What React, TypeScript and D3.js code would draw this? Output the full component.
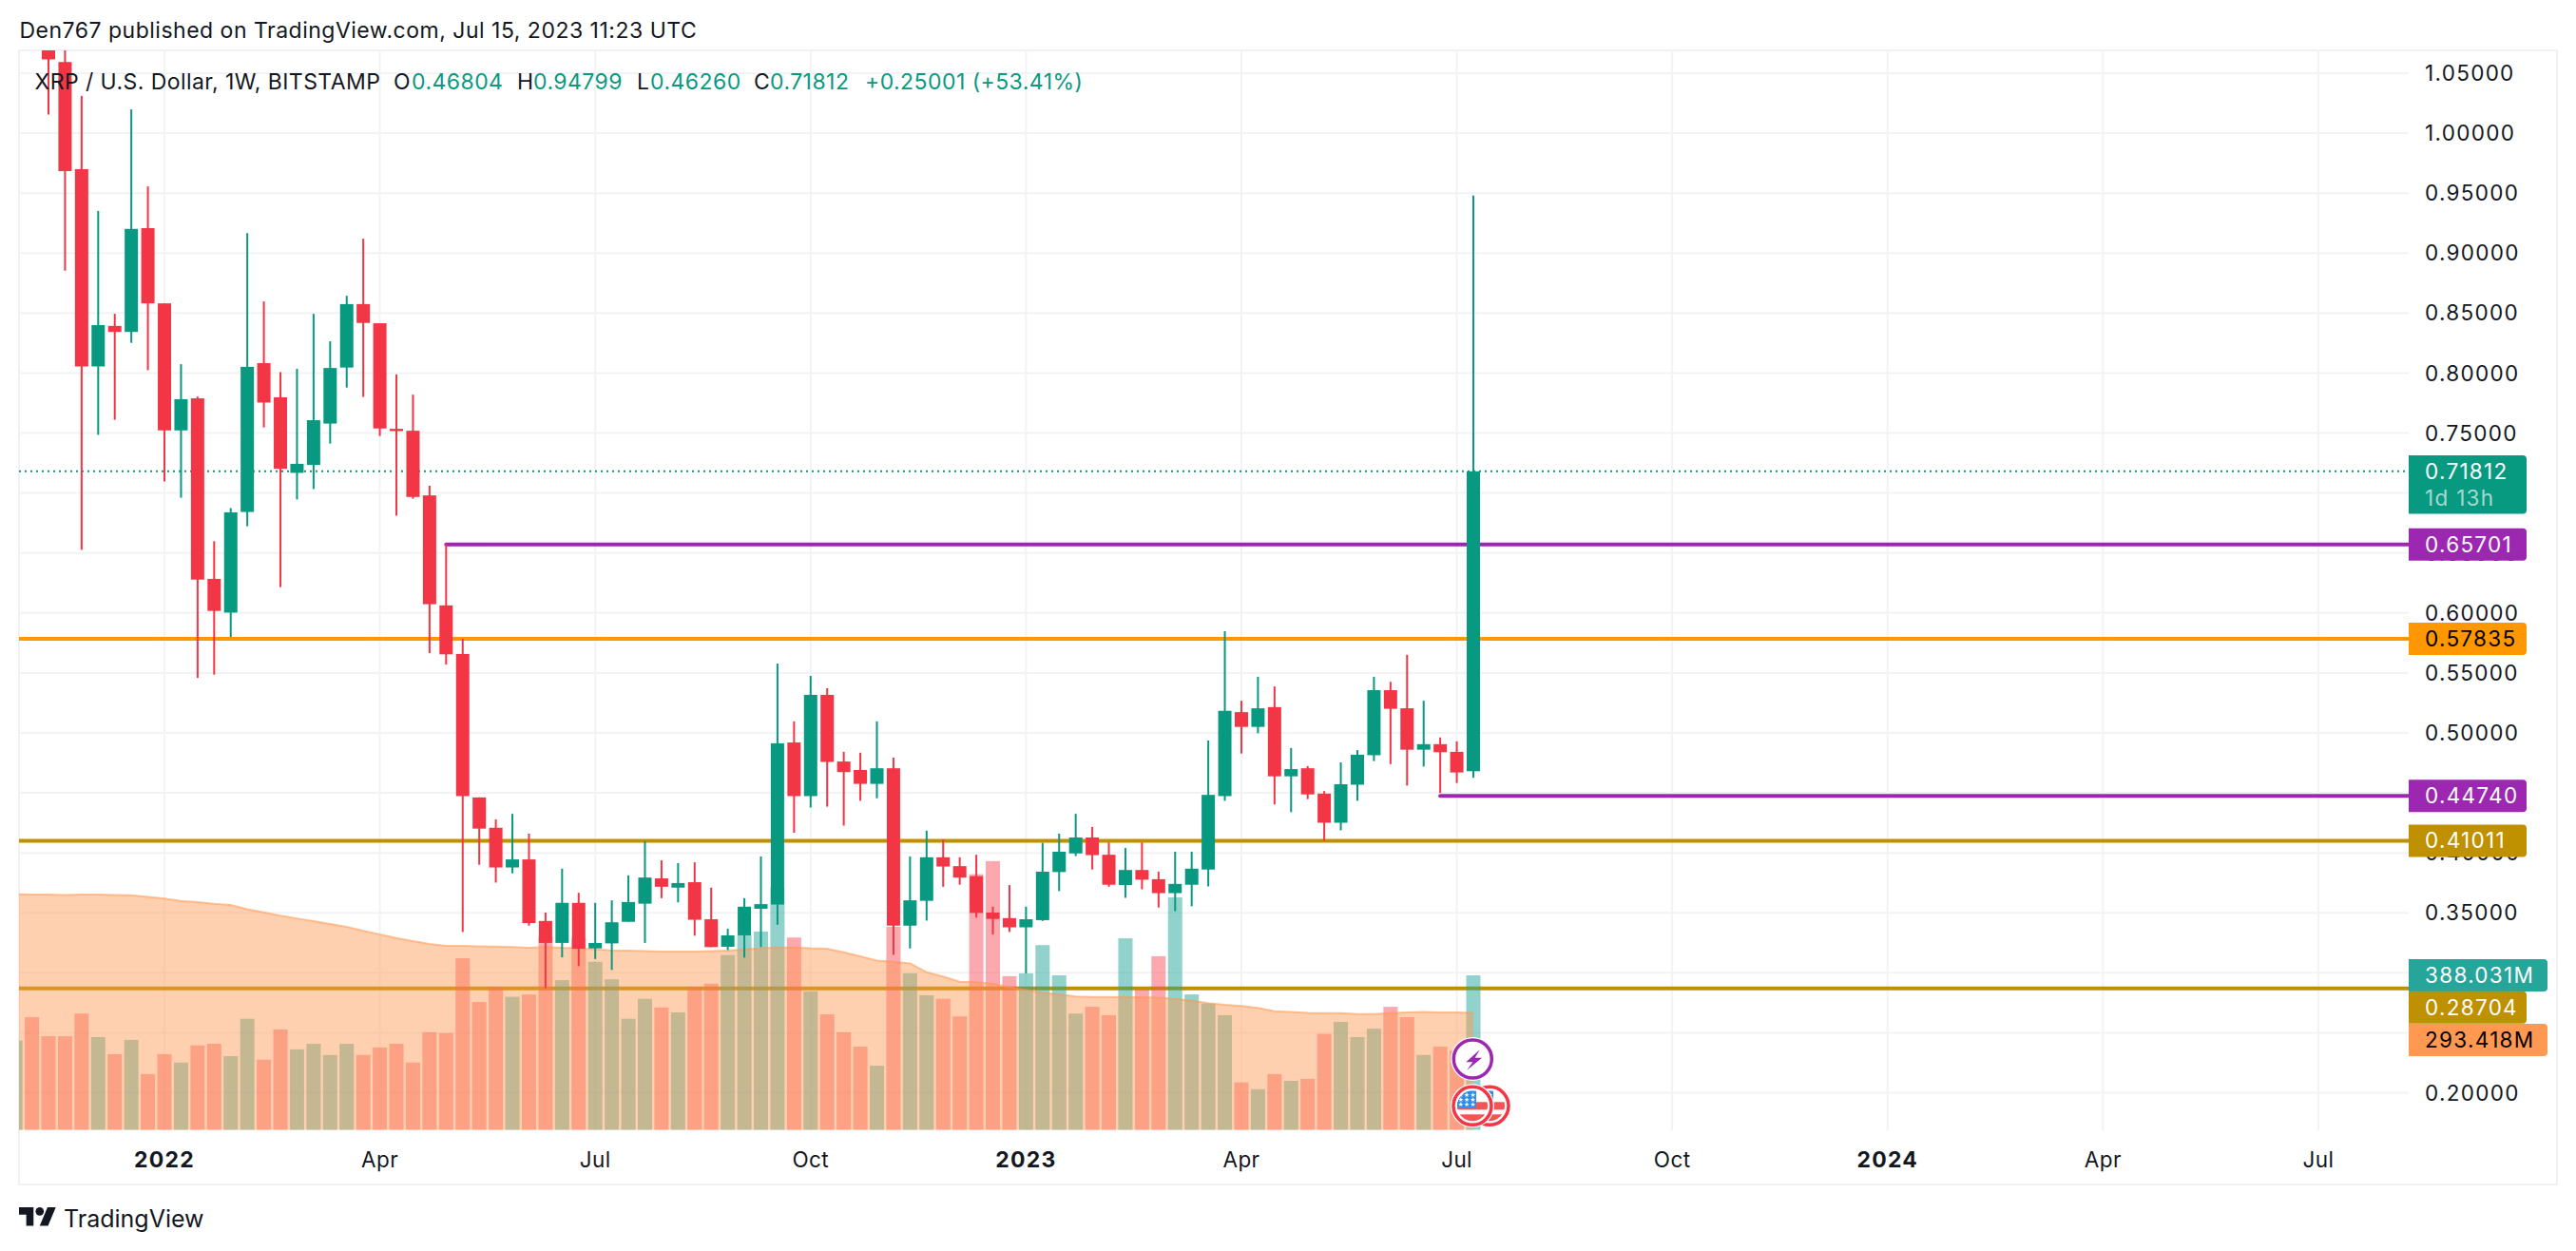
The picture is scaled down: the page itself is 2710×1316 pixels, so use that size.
/**
 * XRP / USD weekly candles with volume, volume MA and drawn levels (D3 scales + JSX).
 */

import * as d3 from "d3";

const WIDTH = 2710;
const HEIGHT = 1316;
const FONT = "Inter, 'Noto Sans', sans-serif";

const UP = "#089981";
const DOWN = "#F23645";
const GRID = "#F2F3F5";
const FRAME = "#F0F1F6";
const TEXT = "#131722";
const PURPLE = "#9C27B0";
const ORANGE = "#FF9800";
const GOLD = "#BF9000";
const MA_COLOR = "#FF9850";

// weekly candles, first one is the week of Nov 15 2021
const opens = [
  1.12, 1.0593, 0.97, 0.8055, 0.8393, 0.8343, 0.9208, 0.8581, 0.7522, 0.7789, 0.6284, 0.6003, 0.6842, 0.8083, 0.7798,
  0.7168, 0.7234, 0.7579, 0.8046, 0.8575, 0.8415, 0.7535, 0.7519, 0.698, 0.6063, 0.5658, 0.4462, 0.4209, 0.3878,
  0.3945, 0.3432, 0.3249, 0.3583, 0.3203, 0.3245, 0.3425, 0.3576, 0.3787, 0.371, 0.3755, 0.3446, 0.3217, 0.3312,
  0.3534, 0.3569, 0.492, 0.4473, 0.5317, 0.4761, 0.4691, 0.4575, 0.4705, 0.3393, 0.36, 0.3963, 0.3889, 0.3805, 0.3502,
  0.3456, 0.3379, 0.3439, 0.384, 0.3995, 0.4128, 0.3984, 0.3731, 0.3857, 0.378, 0.3664, 0.3734, 0.3861, 0.4473,
  0.5173, 0.505, 0.5215, 0.4638, 0.4705, 0.4494, 0.4251, 0.4568, 0.4814, 0.5356, 0.5205, 0.486, 0.4906, 0.4842, 0.46804,
];
const highs = [
  1.16, 1.12, 1.0311, 0.9352, 0.8494, 1.0198, 0.9556, 0.8581, 0.8074, 0.7804, 0.6598, 0.6874, 0.9167, 0.8597, 0.8008,
  0.8036, 0.8494, 0.8265, 0.8644, 0.912, 0.8415, 0.7989, 0.782, 0.7061, 0.6573, 0.5785, 0.4462, 0.4279, 0.4325, 0.416,
  0.3502, 0.3868, 0.3667, 0.3583, 0.3604, 0.3812, 0.4097, 0.3938, 0.3914, 0.3921, 0.371, 0.3368, 0.3622, 0.397, 0.5578,
  0.5096, 0.5475, 0.5373, 0.4842, 0.4835, 0.5096, 0.4793, 0.397, 0.4185, 0.4111, 0.3963, 0.3984, 0.3551, 0.3731,
  0.3551, 0.4083, 0.416, 0.4325, 0.4216, 0.4086, 0.404, 0.4086, 0.3843, 0.4009, 0.4009, 0.4937, 0.5848, 0.5268, 0.5468,
  0.5387, 0.4874, 0.4723, 0.4515, 0.4754, 0.4856, 0.5468, 0.5426, 0.5651, 0.5268, 0.4962, 0.493, 0.94799,
];
const lows = [
  1.0155, 0.8854, 0.6526, 0.7485, 0.761, 0.8252, 0.8024, 0.7096, 0.6961, 0.5458, 0.5486, 0.5799, 0.6723, 0.7547, 0.6215,
  0.6946, 0.7033, 0.7412, 0.7879, 0.7801, 0.7475, 0.6811, 0.6952, 0.5665, 0.557, 0.334, 0.39, 0.3752, 0.3829, 0.3393,
  0.2872, 0.3129, 0.3055, 0.3115, 0.3024, 0.3425, 0.3249, 0.3622, 0.3587, 0.3309, 0.3214, 0.3189, 0.3126, 0.3214, 0.34,
  0.4167, 0.4378, 0.4385, 0.4227, 0.4434, 0.4455, 0.315, 0.3203, 0.3435, 0.3717, 0.3734, 0.346, 0.3319, 0.334, 0.2995,
  0.3432, 0.3681, 0.3973, 0.3861, 0.3717, 0.3625, 0.3696, 0.3544, 0.3513, 0.3555, 0.372, 0.4434, 0.4828, 0.4997,
  0.4403, 0.4339, 0.4448, 0.41, 0.4188, 0.4434, 0.4765, 0.474, 0.4561, 0.4719, 0.4498, 0.4582, 0.4626,
];
const closes = [
  1.0615, 0.9684, 0.8055, 0.84, 0.8343, 0.9202, 0.8581, 0.7522, 0.7782, 0.6278, 0.6017, 0.6839, 0.8052, 0.7754, 0.7202,
  0.7243, 0.7607, 0.8042, 0.8575, 0.8418, 0.7538, 0.7516, 0.6967, 0.6073, 0.5655, 0.4473, 0.4202, 0.3878, 0.3945,
  0.3414, 0.3249, 0.3583, 0.32, 0.3249, 0.3421, 0.359, 0.3794, 0.3717, 0.3748, 0.3442, 0.3214, 0.3312, 0.3551, 0.3572,
  0.4913, 0.4473, 0.5317, 0.4758, 0.4673, 0.4575, 0.4705, 0.3393, 0.3604, 0.3963, 0.3886, 0.3794, 0.3499, 0.3449,
  0.3379, 0.3446, 0.3843, 0.4009, 0.4128, 0.3981, 0.3734, 0.3857, 0.3776, 0.3664, 0.3741, 0.3868, 0.4483, 0.5184,
  0.505, 0.5205, 0.4638, 0.4698, 0.4487, 0.4251, 0.4572, 0.4818, 0.5356, 0.5201, 0.486, 0.4906, 0.4839, 0.467, 0.71812,
];

// the two bars before the first candle only show up in the volume pane
const FIRST_VOLUME_WEEK = -2;
const volumeUpBefore = [true, false];
const volumes = [
  224, 283, 235, 235, 292, 233, 190, 226, 140, 190, 169, 212, 216, 185, 279, 176, 252, 202, 216, 188, 216, 188, 207, 216,
  169, 245, 243, 431, 321, 359, 334, 340, 485, 376, 481, 422, 378, 279, 329, 307, 295, 359, 367, 439, 489, 498, 609, 483,
  348, 290, 245, 209, 161, 510, 393, 338, 329, 285, 642, 675, 386, 393, 464, 388, 292, 309, 288, 481, 352, 436, 584, 340,
  317, 288, 119, 102, 140, 123, 128, 241, 271, 233, 254, 309, 283, 188, 209, 199, 388.031,
];
const volumeMa = [
  592, 591, 591, 590, 591, 591, 590, 589, 585, 581, 575, 572, 568, 565, 554, 546, 538, 531, 524, 517, 510, 500, 491, 482,
  474, 467, 462, 462, 461, 460, 459, 457, 459, 457, 456, 453, 451, 450, 449, 448, 448, 448, 449, 450, 453, 456, 458, 458,
  456, 455, 446, 436, 425, 422, 418, 396, 385, 372, 371, 367, 358, 351, 344, 340, 335, 334, 334, 333, 333, 332, 329, 324,
  318, 314, 311, 306, 298, 296, 294, 293, 293, 291, 291, 293, 295, 296, 295, 295, 293.418,
];

const priceTicks = [
  0.2, 0.25, 0.3, 0.35, 0.4, 0.45, 0.5, 0.55, 0.6, 0.65, 0.7, 0.75, 0.8, 0.85, 0.9, 0.95, 1.0, 1.05,
];
// these labels lie fully under a price tag in the picture
const hiddenPriceLabels = [0.25, 0.3, 0.45, 0.7];
const timeLabels = ["2022", "Apr", "Jul", "Oct", "2023", "Apr", "Jul", "Oct", "2024", "Apr", "Jul"];
const timeWeeks = [7, 20, 33, 46, 59, 72, 85, 98, 111, 124, 137];

const levelPrices = [0.65701, 0.57835, 0.4474, 0.41011, 0.28704];
const levelColors = [PURPLE, ORANGE, PURPLE, GOLD, GOLD];
const levelStartWeeks = [24, -2, 84, -2, -2];
const levelTextFill = ["#fff", "#000", "#fff", "#fff", "#fff"];

const LAST_PRICE = 0.71812;

const legendParts: [string, number, string][] = [
  ["XRP / U.S. Dollar, 1W, BITSTAMP", 36.5, TEXT],
  ["O", 414, TEXT],
  ["0.46804", 433, UP],
  ["H", 544, TEXT],
  ["0.94799", 561, UP],
  ["L", 670, TEXT],
  ["0.46260", 684, UP],
  ["C", 793, TEXT],
  ["0.71812", 810, UP],
  ["+0.25001 (+53.41%)", 910, UP],
];

const pane = { left: 20, right: 2534, top: 53, bottom: 1189, outerRight: 2690, outerBottom: 1246 };

const x = d3.scaleLinear().domain([0, 86]).range([51, 1550]);
const y = d3.scaleLinear().domain([0.2, 1.05]).range([1149.5, 77]);
const yVol = d3.scaleLinear().domain([0, 388.031]).range([1188.5, 1026]);

const BODY_W = 14;
const WICK_W = 2;
const VOL_W = 15;
const TAG_H = 34;
const TAG_W = 124;
const VOL_TAG_W = 146;
const LABEL_X = 2551;
const TICK_SIZE = 22.5;
const TICK_SPACING = "1.3px";

const volWeek = (i: number) => i + FIRST_VOLUME_WEEK;
const volIsUp = (i: number) => {
  const w = volWeek(i);
  return w < 0 ? volumeUpBefore[i] : closes[w] >= opens[w];
};

const maArea = d3
  .area<number>()
  .x((_, i) => x(volWeek(i)))
  .y0(yVol(0))
  .y1((d) => yVol(d));
const maLine = d3
  .line<number>()
  .x((_, i) => x(volWeek(i)))
  .y((d) => yVol(d));

function Tag({ cy, w, fill, color, text }: { cy: number; w: number; fill: string; color: string; text: string }) {
  const x0 = pane.right;
  const top = cy - TAG_H / 2;
  return (
    <g>
      <path d={`M${x0},${top}H${x0 + w - 4}q4,0 4,4V${top + TAG_H - 4}q0,4 -4,4H${x0}Z`} fill={fill} />
      <text x={LABEL_X} y={cy} dy="0.36em" fill={color} fontSize={TICK_SIZE} style={{ letterSpacing: TICK_SPACING }}>
        {text}
      </text>
    </g>
  );
}

function FlagBadge({ cx, cy, id }: { cx: number; cy: number; id: string }) {
  const r = 16;
  return (
    <g>
      <circle cx={cx} cy={cy} r={23} fill="#fff" />
      <circle cx={cx} cy={cy} r={20} fill="#fff" stroke={DOWN} strokeWidth={3.5} />
      <clipPath id={id}>
        <circle cx={cx} cy={cy} r={r} />
      </clipPath>
      <g clipPath={`url(#${id})`}>
        <rect x={cx - r} y={cy - 4} width={2 * r} height={8} fill="#F25555" />
        <rect x={cx - r} y={cy + 9} width={2 * r} height={8} fill="#F25555" />
        <rect x={cx - r} y={cy - r} width={r + 4} height={r + 2} fill="#2E8BE6" />
        {[-10, -5, 0].map((dy) => (
          <text key={dy} x={cx - 6} y={cy + dy + 1} fontSize={6} fill="#fff" textAnchor="middle">
            ★★★
          </text>
        ))}
      </g>
    </g>
  );
}

export default function App() {
  const clipId = "pane-clip";
  return (
    <svg
      width={WIDTH}
      height={HEIGHT}
      viewBox={`0 0 ${WIDTH} ${HEIGHT}`}
      style={{ position: "fixed", left: 0, top: 0, background: "#fff" }}
      fontFamily={FONT}
    >
      <defs>
        <clipPath id={clipId}>
          <rect x={pane.left} y={pane.top} width={pane.right - pane.left} height={pane.bottom - pane.top} />
        </clipPath>
      </defs>

      <text x={20.5} y={39.5} fontSize={23} fill={TEXT} style={{ letterSpacing: "0.5px" }}>
        Den767 published on TradingView.com, Jul 15, 2023 11:23 UTC
      </text>

      {/* frame */}
      <rect
        x={pane.left}
        y={pane.top}
        width={pane.outerRight - pane.left}
        height={pane.outerBottom - pane.top}
        fill="none"
        stroke={FRAME}
        strokeWidth={2}
      />

      {/* grid */}
      {priceTicks.map((p) => (
        <line key={p} x1={pane.left} x2={pane.right} y1={y(p)} y2={y(p)} stroke={GRID} strokeWidth={2} />
      ))}
      {timeWeeks.map((w) => (
        <line key={w} x1={x(w)} x2={x(w)} y1={pane.top} y2={pane.bottom} stroke={GRID} strokeWidth={2} />
      ))}

      <g clipPath={`url(#${clipId})`}>
        {/* drawn levels sit under the volume pane */}
        {levelPrices.map((p, i) => (
          <line
            key={p}
            x1={x(levelStartWeeks[i])}
            x2={pane.right + 4}
            y1={y(p)}
            y2={y(p)}
            stroke={levelColors[i]}
            strokeWidth={4}
            strokeLinecap="round"
          />
        ))}

        {/* volume */}
        {volumes.map((v, i) => (
          <rect
            key={i}
            x={x(volWeek(i)) - VOL_W / 2}
            y={yVol(v)}
            width={VOL_W}
            height={yVol(0) - yVol(v)}
            fill={volIsUp(i) ? "#26A69A" : "#F7525F"}
            fillOpacity={0.5}
          />
        ))}

        {/* volume MA */}
        <path d={maArea(volumeMa) ?? ""} fill={MA_COLOR} fillOpacity={0.46} />
        <path d={maLine(volumeMa) ?? ""} fill="none" stroke={MA_COLOR} strokeOpacity={0.55} strokeWidth={2} />

        {/* last price line */}
        <line
          x1={pane.left}
          x2={pane.right}
          y1={y(LAST_PRICE)}
          y2={y(LAST_PRICE)}
          stroke={UP}
          strokeWidth={2}
          strokeDasharray="2 4"
        />

        {/* candles */}
        {opens.map((o, i) => {
          const c = closes[i];
          const color = c >= o ? UP : DOWN;
          const top = y(Math.max(o, c));
          const bottom = y(Math.min(o, c));
          return (
            <g key={i} fill={color}>
              <rect x={x(i) - WICK_W / 2} y={y(highs[i])} width={WICK_W} height={y(lows[i]) - y(highs[i])} />
              <rect x={x(i) - BODY_W / 2} y={top} width={BODY_W} height={Math.max(bottom - top, 1)} />
            </g>
          );
        })}
      </g>

      {/* event badges */}
      <circle cx={1549.3} cy={1114} r={23} fill="#fff" />
      <circle cx={1549.3} cy={1114} r={20} fill="#fff" stroke={PURPLE} strokeWidth={3.5} />
      <path d="M1556.7,1104.3 L1542.3,1117.3 L1549.3,1117.3 L1543.3,1125.7 L1559,1112.7 L1551.7,1112.7 Z" fill={PURPLE} />
      <FlagBadge cx={1567} cy={1163.3} id="flag-b" />
      <FlagBadge cx={1549} cy={1163.3} id="flag-a" />

      {/* legend */}
      <g fontSize={23} style={{ letterSpacing: "0.45px" }}>
        {legendParts.map(([t, lx, fill]) => (
          <text key={t} x={lx} y={94} fill={fill}>
            {t}
          </text>
        ))}
      </g>

      {/* price axis */}
      {priceTicks
        .filter((p) => !hiddenPriceLabels.includes(p))
        .map((p) => (
          <text
            key={p}
            x={LABEL_X}
            y={y(p)}
            dy="0.36em"
            fontSize={TICK_SIZE}
            fill={TEXT}
            style={{ letterSpacing: TICK_SPACING }}
          >
            {p.toFixed(5)}
          </text>
        ))}

      {/* time axis */}
      {timeWeeks.map((w, i) => {
        const isYear = /^\d/.test(timeLabels[i]);
        return (
          <text
            key={w}
            x={x(w)}
            y={1220}
            dy="0.36em"
            textAnchor="middle"
            fontSize={isYear ? 23 : 22.5}
            fontWeight={isYear ? 700 : 400}
            fill={TEXT}
            style={{ letterSpacing: isYear ? "1.2px" : "0.4px" }}
          >
            {timeLabels[i]}
          </text>
        );
      })}

      {/* axis tags */}
      <path d={`M${pane.right},479H${pane.right + TAG_W - 4}q4,0 4,4V536.5q0,4 -4,4H${pane.right}Z`} fill={UP} />
      <text
        x={LABEL_X}
        y={y(LAST_PRICE)}
        dy="0.36em"
        fill="#fff"
        fontSize={TICK_SIZE}
        style={{ letterSpacing: TICK_SPACING }}
      >
        {LAST_PRICE.toFixed(5)}
      </text>
      <text
        x={LABEL_X}
        y={524}
        dy="0.36em"
        fill="#fff"
        fillOpacity={0.65}
        fontSize={TICK_SIZE}
        style={{ letterSpacing: TICK_SPACING }}
      >
        1d 13h
      </text>
      {levelPrices.map((p, i) =>
        i === 4 ? null : (
          <Tag key={p} cy={y(p)} w={TAG_W} fill={levelColors[i]} color={levelTextFill[i]} text={p.toFixed(5)} />
        ),
      )}
      <Tag cy={yVol(388.031)} w={VOL_TAG_W} fill="#26A69A" color="#fff" text="388.031M" />
      <Tag cy={1059.7} w={TAG_W} fill={GOLD} color="#fff" text="0.28704" />
      <Tag cy={1094} w={VOL_TAG_W} fill={MA_COLOR} color="#000" text="293.418M" />

      {/* footer */}
      <g transform="translate(20,1270) scale(1.09)" fill={TEXT}>
        <path d="M14 18H7V7H0V0h14v18zM28 18h-8l7.5-18h8L28 18z" />
        <circle cx={20} cy={4} r={4} />
      </g>
      <text x={67} y={1291} fontSize={25} fill={TEXT}>
        TradingView
      </text>
    </svg>
  );
}
